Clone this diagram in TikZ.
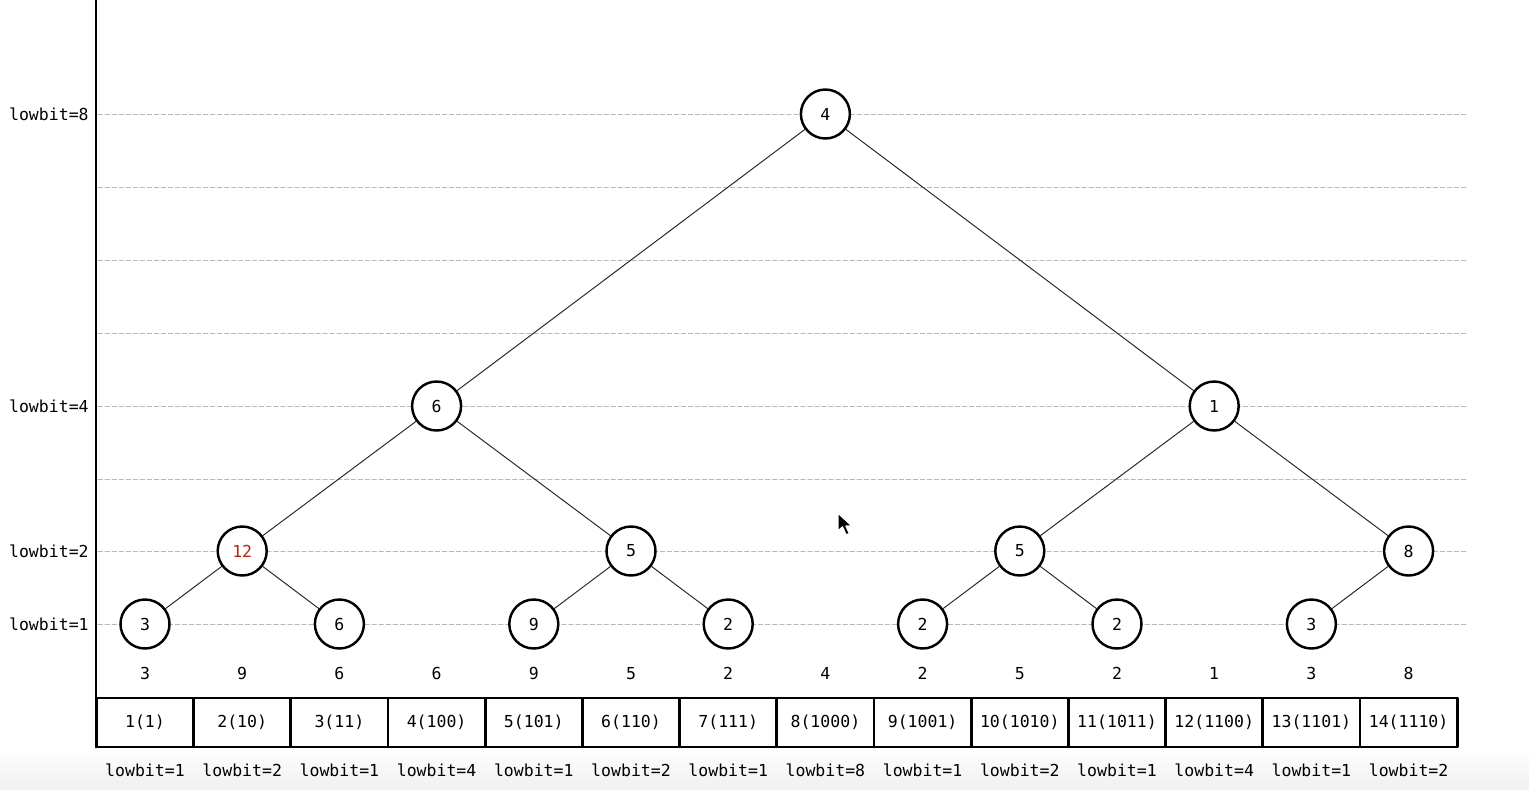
\documentclass[tikz,border=0pt]{standalone}
\usepackage{fontspec}
\newfontfamily\codefont{DejaVu Sans Mono}
\usetikzlibrary{positioning}
\definecolor{HitRed}{RGB}{178,40,24}
\tikzset{
	axisline/.style={black, line width=1.7pt},
	gridline/.style={black!28, line width=0.5pt, dash pattern=on 2.5pt off 1.5pt},
	treenode/.style={circle, draw=black, line width=1.4pt, fill=white,
		minimum size=0.98cm, inner sep=0pt, font=\codefont\fontsize{9.4}{11}\selectfont},
	treeedge/.style={black!85, line width=0.55pt},
	cell/.style={draw=black, line width=1.6pt, minimum width=1.944cm,
		minimum height=0.98cm, inner sep=0pt, font=\codefont\fontsize{9.4}{11}\selectfont},
	lbl/.style={inner sep=0pt, font=\codefont\fontsize{9.4}{11}\selectfont},
}

\begin{document}
\begin{tikzpicture}[x=0.02cm, y=-0.02cm, line cap=round, line join=round]
		
		\useasboundingbox (0,0) rectangle (1529,789);
		
		% screenshot fade at the bottom
		\shade[top color=white, bottom color=black!6] (0,748) rectangle (1529,789);
		
		% --- level guides ---
		\draw[gridline] (98,114) -- (1468,114);
		\draw[gridline] (98,187) -- (1468,187);
		\draw[gridline] (98,260) -- (1468,260);
		\draw[gridline] (98,333) -- (1468,333);
		\draw[gridline] (98,406) -- (1468,406);
		\draw[gridline] (98,479) -- (1468,479);
		\draw[gridline] (98,551) -- (1468,551);
		\draw[gridline] (98,624) -- (1468,624);
		
		\node[lbl, anchor=east] (lv8) at (89,114.5) {lowbit=8};
		\node[lbl, anchor=east] (lv4) at (89,406.5) {lowbit=4};
		\node[lbl, anchor=east] (lv2) at (89,551.5) {lowbit=2};
		\node[lbl, anchor=east] (lv1) at (89,624.5) {lowbit=1};
		
		% --- array cells, values, lowbit of each index ---
		\foreach \i/\v/\b/\lb in {1/3/1(1)/1, 2/9/2(10)/2, 3/6/3(11)/1, 4/6/4(100)/4,
			5/9/5(101)/1, 6/5/6(110)/2, 7/2/7(111)/1, 8/4/8(1000)/8, 9/2/9(1001)/1,
			10/5/10(1010)/2, 11/2/11(1011)/1, 12/1/12(1100)/4, 13/3/13(1101)/1, 14/8/14(1110)/2}{
			\node[cell] (c\i) at ({145+(\i-1)*97.2},722.5) {\b};
			\node[lbl] (v\i) at ({145+(\i-1)*97.2},673.5) {\v};
			\node[lbl] (w\i) at ({145+(\i-1)*97.2},770.5) {lowbit=\lb};
		}
		
		% axis
		\draw[axisline] (96,0) -- (96,747);
		
		% --- tree nodes (named by index) ---
		\node[treenode] (t8)  at (825.4,114) {4};
		
		\node[treenode] (t4)  at (436.6,406) {6};
		\node[treenode] (t12) at (1214.2,406) {1};
		
		\node[treenode, text=HitRed] (t2) at (242.2,551) {12};
		\node[treenode] (t6)  at (631,551) {5};
		\node[treenode] (t10) at (1019.8,551) {5};
		\node[treenode] (t14) at (1408.6,551) {8};
		
		\node[treenode] (t1)  at (145,624) {3};
		\node[treenode] (t3)  at (339.4,624) {6};
		\node[treenode] (t5)  at (533.8,624) {9};
		\node[treenode] (t7)  at (728.2,624) {2};
		\node[treenode] (t9)  at (922.6,624) {2};
		\node[treenode] (t11) at (1117,624) {2};
		\node[treenode] (t13) at (1311.4,624) {3};
		
		% --- edges ---
		\draw[treeedge] (t8) -- (t4);
		\draw[treeedge] (t8) -- (t12);
		\draw[treeedge] (t4) -- (t2);
		\draw[treeedge] (t4) -- (t6);
		\draw[treeedge] (t12) -- (t10);
		\draw[treeedge] (t12) -- (t14);
		\draw[treeedge] (t2) -- (t1);
		\draw[treeedge] (t2) -- (t3);
		\draw[treeedge] (t6) -- (t5);
		\draw[treeedge] (t6) -- (t7);
		\draw[treeedge] (t10) -- (t9);
		\draw[treeedge] (t10) -- (t11);
		\draw[treeedge] (t14) -- (t13);
		
		% mouse pointer
		\draw[white, line width=0.8pt, fill=black]
		(838,513) -- (838,531) -- (842.5,527) -- (846,535) -- (849.5,533.5) -- (846,526) -- (852,526) -- cycle;
		
	\end{tikzpicture}
\end{document}
